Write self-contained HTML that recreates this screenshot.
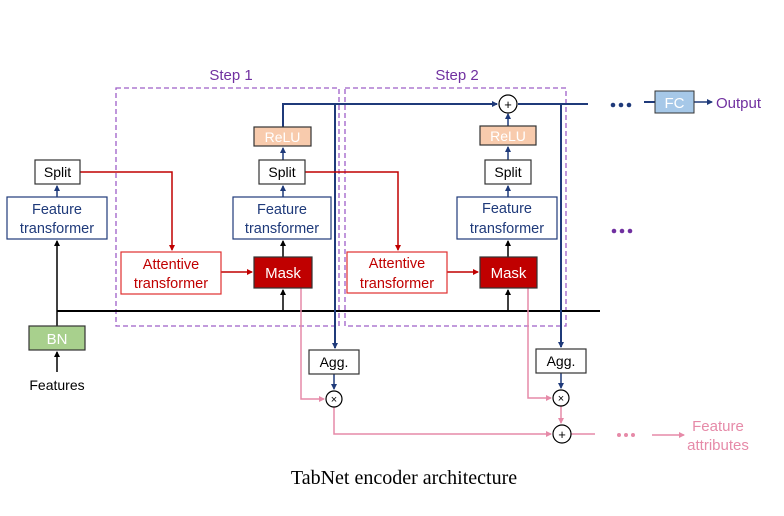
<!DOCTYPE html>
<html><head><meta charset="utf-8"><style>
html,body{margin:0;padding:0;background:#fff;}
svg{display:block;font-family:"Liberation Sans",sans-serif;}
</style></head><body>
<svg width="784" height="516" viewBox="0 0 784 516" xmlns="http://www.w3.org/2000/svg">
<defs>
<marker id="ab" markerWidth="6" markerHeight="6" refX="5" refY="3" orient="auto" markerUnits="userSpaceOnUse"><path d="M0,0L6,3L0,6z" fill="#1f3a7a"/></marker>
<marker id="ak" markerWidth="6" markerHeight="6" refX="5" refY="3" orient="auto" markerUnits="userSpaceOnUse"><path d="M0,0L6,3L0,6z" fill="#000"/></marker>
<marker id="ar" markerWidth="6" markerHeight="6" refX="5" refY="3" orient="auto" markerUnits="userSpaceOnUse"><path d="M0,0L6,3L0,6z" fill="#c00000"/></marker>
<marker id="ap" markerWidth="6" markerHeight="6" refX="5" refY="3" orient="auto" markerUnits="userSpaceOnUse"><path d="M0,0L6,3L0,6z" fill="#e68aa8"/></marker>
</defs>
<rect x="116" y="88" width="223" height="238" fill="none" stroke="#9e5fc8" stroke-width="1.3" stroke-dasharray="5,3"/>
<rect x="345" y="88" width="221" height="238" fill="none" stroke="#9e5fc8" stroke-width="1.3" stroke-dasharray="5,3"/>
<text x="231" y="80" font-size="15" fill="#7030a0" text-anchor="middle">Step 1</text>
<text x="457" y="80" font-size="15" fill="#7030a0" text-anchor="middle">Step 2</text>

<line x1="57" y1="311" x2="600" y2="311" stroke="#000" stroke-width="2"/>
<line x1="57" y1="372" x2="57" y2="352" stroke="#000" stroke-width="1.5" marker-end="url(#ak)"/>
<line x1="57" y1="326" x2="57" y2="241" stroke="#000" stroke-width="1.5" marker-end="url(#ak)"/>
<line x1="283" y1="311" x2="283" y2="290" stroke="#000" stroke-width="1.5" marker-end="url(#ak)"/>
<line x1="283" y1="257" x2="283" y2="241" stroke="#000" stroke-width="1.5" marker-end="url(#ak)"/>
<line x1="508" y1="311" x2="508" y2="290" stroke="#000" stroke-width="1.5" marker-end="url(#ak)"/>
<line x1="508" y1="257" x2="508" y2="241" stroke="#000" stroke-width="1.5" marker-end="url(#ak)"/>

<line x1="57" y1="197" x2="57" y2="186" stroke="#1f3a7a" stroke-width="1.5" marker-end="url(#ab)"/>
<line x1="283" y1="197" x2="283" y2="186" stroke="#1f3a7a" stroke-width="1.5" marker-end="url(#ab)"/>
<line x1="283" y1="160" x2="283" y2="148" stroke="#1f3a7a" stroke-width="1.5" marker-end="url(#ab)"/>
<line x1="508" y1="197" x2="508" y2="186" stroke="#1f3a7a" stroke-width="1.5" marker-end="url(#ab)"/>
<line x1="508" y1="160" x2="508" y2="147" stroke="#1f3a7a" stroke-width="1.5" marker-end="url(#ab)"/>
<line x1="508" y1="126" x2="508" y2="114" stroke="#1f3a7a" stroke-width="1.5" marker-end="url(#ab)"/>
<polyline points="283,127 283,104 497,104" fill="none" stroke="#1f3a7a" stroke-width="2" marker-end="url(#ab)"/>
<line x1="518" y1="104" x2="588" y2="104" stroke="#1f3a7a" stroke-width="2"/>
<line x1="335" y1="104" x2="335" y2="348" stroke="#1f3a7a" stroke-width="2" marker-end="url(#ab)"/>
<line x1="561" y1="104" x2="561" y2="347" stroke="#1f3a7a" stroke-width="2" marker-end="url(#ab)"/>
<line x1="334" y1="374" x2="334" y2="389" stroke="#1f3a7a" stroke-width="1.5" marker-end="url(#ab)"/>
<line x1="561" y1="373" x2="561" y2="388" stroke="#1f3a7a" stroke-width="1.5" marker-end="url(#ab)"/>
<g fill="#1f3a7a"><circle cx="613" cy="105" r="2.3"/><circle cx="621" cy="105" r="2.3"/><circle cx="629" cy="105" r="2.3"/></g>
<line x1="644" y1="102" x2="655" y2="102" stroke="#1f3a7a" stroke-width="2"/>
<line x1="694" y1="102" x2="712" y2="102" stroke="#1f3a7a" stroke-width="1.5" marker-end="url(#ab)"/>
<rect x="655" y="91" width="39" height="22" fill="#a6c8e8" stroke="#333" stroke-width="1"/>
<text x="674.5" y="108" font-size="15" fill="#fff" text-anchor="middle">FC</text>
<text x="716" y="108" font-size="15" fill="#7030a0">Output</text>
<g fill="#7030a0"><circle cx="614" cy="231" r="2.3"/><circle cx="622" cy="231" r="2.3"/><circle cx="630" cy="231" r="2.3"/></g>

<polyline points="80,172 172,172 172,250" fill="none" stroke="#c00000" stroke-width="1.5" marker-end="url(#ar)"/>
<polyline points="305,172 398,172 398,250" fill="none" stroke="#c00000" stroke-width="1.5" marker-end="url(#ar)"/>
<line x1="221" y1="272" x2="252" y2="272" stroke="#c00000" stroke-width="1.5" marker-end="url(#ar)"/>
<line x1="447" y1="272" x2="478" y2="272" stroke="#c00000" stroke-width="1.5" marker-end="url(#ar)"/>

<polyline points="301,288 301,399 324,399" fill="none" stroke="#e68aa8" stroke-width="1.5" marker-end="url(#ap)"/>
<polyline points="528,288 528,398 551,398" fill="none" stroke="#e68aa8" stroke-width="1.5" marker-end="url(#ap)"/>
<polyline points="334,407 334,434 551,434" fill="none" stroke="#e68aa8" stroke-width="1.5" marker-end="url(#ap)"/>
<line x1="561" y1="406" x2="561" y2="423" stroke="#e68aa8" stroke-width="1.5" marker-end="url(#ap)"/>
<line x1="571" y1="434" x2="595" y2="434" stroke="#e68aa8" stroke-width="1.5"/>
<g fill="#e68aa8"><circle cx="619" cy="435" r="2"/><circle cx="626" cy="435" r="2"/><circle cx="633" cy="435" r="2"/></g>
<line x1="652" y1="435" x2="684" y2="435" stroke="#e68aa8" stroke-width="1.5" marker-end="url(#ap)"/>
<text x="718" y="431" font-size="15" fill="#e68aa8" text-anchor="middle">Feature</text>
<text x="718" y="450" font-size="15" fill="#e68aa8" text-anchor="middle">attributes</text>

<circle cx="508" cy="104" r="9" fill="#fff" stroke="#000" stroke-width="1.2"/>
<text x="508" y="109" font-size="13" text-anchor="middle">+</text>
<circle cx="334" cy="399" r="8" fill="#fff" stroke="#000" stroke-width="1.2"/>
<text x="334" y="403" font-size="11" text-anchor="middle">×</text>
<circle cx="561" cy="398" r="8" fill="#fff" stroke="#000" stroke-width="1.2"/>
<text x="561" y="402" font-size="11" text-anchor="middle">×</text>
<circle cx="562" cy="434" r="9" fill="#fff" stroke="#000" stroke-width="1.2"/>
<text x="562" y="439" font-size="13" text-anchor="middle">+</text>

<rect x="35" y="160" width="45" height="24" fill="#fff" stroke="#333" stroke-width="1.2"/>
<text x="57.5" y="177" font-size="14" text-anchor="middle">Split</text>
<rect x="7" y="197" width="100" height="42" fill="#fff" stroke="#1f3a7a" stroke-width="1.2"/>
<text x="57" y="214" font-size="14.5" fill="#1f3a7a" text-anchor="middle">Feature</text>
<text x="57" y="233" font-size="14.5" fill="#1f3a7a" text-anchor="middle">transformer</text>
<rect x="29" y="326" width="56" height="24" fill="#a8d08d" stroke="#333" stroke-width="1.2"/>
<text x="57" y="344" font-size="15" fill="#fff" text-anchor="middle">BN</text>
<text x="57" y="390" font-size="14" text-anchor="middle">Features</text>

<rect x="254" y="127" width="57" height="19" fill="#f8cbad" stroke="#333" stroke-width="1.2"/>
<text x="282.5" y="142" font-size="14" fill="#fff" text-anchor="middle">ReLU</text>
<rect x="259" y="160" width="46" height="24" fill="#fff" stroke="#333" stroke-width="1.2"/>
<text x="282" y="177" font-size="14" text-anchor="middle">Split</text>
<rect x="233" y="197" width="98" height="42" fill="#fff" stroke="#1f3a7a" stroke-width="1.2"/>
<text x="282" y="214" font-size="14.5" fill="#1f3a7a" text-anchor="middle">Feature</text>
<text x="282" y="233" font-size="14.5" fill="#1f3a7a" text-anchor="middle">transformer</text>
<rect x="121" y="252" width="100" height="42" fill="#fff" stroke="#e03030" stroke-width="1.2"/>
<text x="171" y="269" font-size="14.5" fill="#c00000" text-anchor="middle">Attentive</text>
<text x="171" y="288" font-size="14.5" fill="#c00000" text-anchor="middle">transformer</text>
<rect x="254" y="257" width="58" height="31" fill="#c00000" stroke="#333" stroke-width="1.2"/>
<text x="283" y="278" font-size="15" fill="#fff" text-anchor="middle">Mask</text>
<rect x="309" y="350" width="50" height="24" fill="#fff" stroke="#333" stroke-width="1.2"/>
<text x="334" y="367" font-size="14" text-anchor="middle">Agg.</text>

<rect x="480" y="126" width="56" height="19" fill="#f8cbad" stroke="#333" stroke-width="1.2"/>
<text x="508" y="141" font-size="14" fill="#fff" text-anchor="middle">ReLU</text>
<rect x="485" y="160" width="46" height="24" fill="#fff" stroke="#333" stroke-width="1.2"/>
<text x="508" y="177" font-size="14" text-anchor="middle">Split</text>
<rect x="457" y="197" width="100" height="42" fill="#fff" stroke="#1f3a7a" stroke-width="1.2"/>
<text x="507" y="213" font-size="14.5" fill="#1f3a7a" text-anchor="middle">Feature</text>
<text x="507" y="233" font-size="14.5" fill="#1f3a7a" text-anchor="middle">transformer</text>
<rect x="347" y="252" width="100" height="41" fill="#fff" stroke="#e03030" stroke-width="1.2"/>
<text x="397" y="268" font-size="14.5" fill="#c00000" text-anchor="middle">Attentive</text>
<text x="397" y="288" font-size="14.5" fill="#c00000" text-anchor="middle">transformer</text>
<rect x="480" y="257" width="57" height="31" fill="#c00000" stroke="#333" stroke-width="1.2"/>
<text x="508.5" y="278" font-size="15" fill="#fff" text-anchor="middle">Mask</text>
<rect x="536" y="349" width="50" height="24" fill="#fff" stroke="#333" stroke-width="1.2"/>
<text x="561" y="366" font-size="14" text-anchor="middle">Agg.</text>

<text x="404" y="484" font-size="20" font-family="Liberation Serif,serif" text-anchor="middle">TabNet encoder architecture</text>
</svg>
</body></html>
